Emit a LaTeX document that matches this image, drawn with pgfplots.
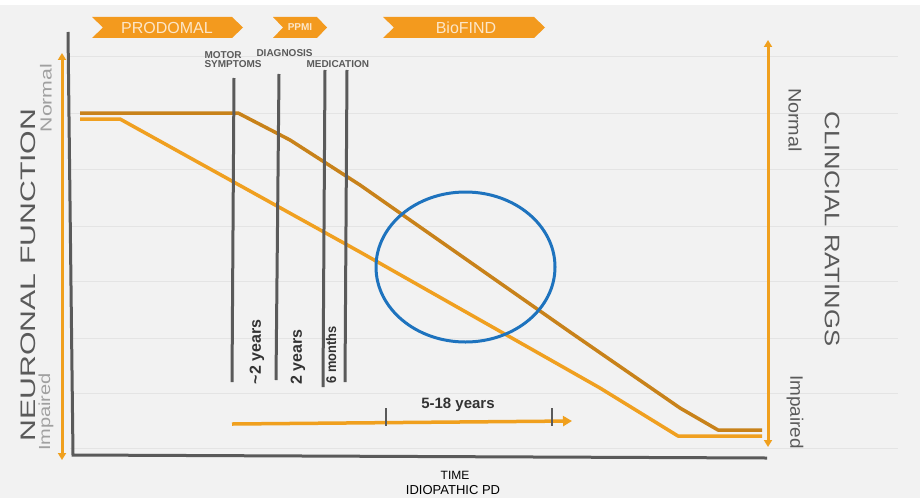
\documentclass[border=0pt]{standalone}
\usepackage{pgfplots}
\pgfplotsset{compat=1.18}
\usepackage{fontspec}
\setmainfont{Liberation Sans}
\usetikzlibrary{arrows.meta}
\definecolor{bg}{HTML}{F2F2F2}
\definecolor{gridc}{HTML}{E4E4E4}
\definecolor{darkor}{HTML}{C8821A}
\definecolor{lightor}{HTML}{F0A020}
\definecolor{arrowor}{HTML}{F0A01E}
\definecolor{chev}{HTML}{F39A1E}
\definecolor{chevtxt}{HTML}{FCE6C8}
\definecolor{axgray}{HTML}{5A5A5A}
\definecolor{bluec}{HTML}{1E73BE}
\definecolor{lbl}{HTML}{5A5A5A}
\definecolor{lgray}{HTML}{A0A0A0}
\definecolor{txtdark}{HTML}{333333}
\newcommand{\fs}[1]{\fontsize{#1bp}{#1bp}\selectfont}
\begin{document}
\begin{tikzpicture}
\begin{axis}[scale only axis, width=920bp, height=498bp,
  xmin=0, xmax=920, ymin=0, ymax=498, y dir=reverse,
  hide axis, clip=false]
% background
\fill[white] (axis cs:0,0) rectangle (axis cs:920,498);
\fill[bg] (axis cs:0,5) rectangle (axis cs:920,498);
% faint grid lines
\draw[gridc, line width=0.8bp] (axis cs:70,56) -- (axis cs:898,56);
\draw[gridc, line width=0.8bp] (axis cs:70,113) -- (axis cs:898,113);
\draw[gridc, line width=0.8bp] (axis cs:70,169) -- (axis cs:898,169);
\draw[gridc, line width=0.8bp] (axis cs:70,226) -- (axis cs:898,226);
\draw[gridc, line width=0.8bp] (axis cs:70,281) -- (axis cs:898,281);
\draw[gridc, line width=0.8bp] (axis cs:70,338) -- (axis cs:898,338);
\draw[gridc, line width=0.8bp] (axis cs:70,393) -- (axis cs:898,393);
\draw[gridc, line width=0.8bp] (axis cs:70,448) -- (axis cs:898,448);

% chevrons
\addplot[fill=chev, draw=none] coordinates {(92,17)(232,17)(243,27.5)(232,38)(92,38)(103,27.5)} -- cycle;
\addplot[fill=chev, draw=none] coordinates {(273,17)(317,17)(327,27.5)(317,38)(273,38)(283,27.5)} -- cycle;
\addplot[fill=chev, draw=none] coordinates {(383,17)(534,17)(545,27.5)(534,38)(383,38)(394,27.5)} -- cycle;
\node[chevtxt, font=\fs{16}] at (axis cs:167,27.5) {PRODOMAL};
\node[chevtxt, font=\fs{10}\bfseries] at (axis cs:300,27.5) {PPMI};
\node[chevtxt, font=\fs{16}] at (axis cs:466,27.5) {BioFIND};

% curves
\addplot[darkor, line width=3.5bp, line join=round] coordinates {(80,113)(238,113)(290,140)(360,185)(570,332)(680,408)(718,430)(762,430)};
\addplot[lightor, line width=3.5bp, line join=round] coordinates {(80,119)(120,119)(360,252)(533,350)(600,388)(678,436)(762,436)};

% axes (L shape)
\addplot[axgray, line width=3bp] coordinates {(68,32)(73,455)(767,458)};

% side arrows
\addplot[arrowor, line width=3bp, arrows={Triangle[length=7bp,width=8bp]-Triangle[length=7bp,width=8bp]}] coordinates {(62,53)(62,460)};
\addplot[arrowor, line width=3bp, arrows={Triangle[length=7bp,width=8bp]-Triangle[length=7bp,width=8bp]}] coordinates {(768,40)(768,447)};

% event lines
\addplot[axgray, line width=3bp] coordinates {(234,78)(232,382)};
\addplot[axgray, line width=3bp] coordinates {(279,74)(276,380)};
\addplot[axgray, line width=3bp] coordinates {(325,70)(323,387)};
\addplot[axgray, line width=3bp] coordinates {(347,70)(345,382)};

% horizontal time arrow
\addplot[arrowor, line width=3.5bp, arrows={-Triangle[length=9bp,width=10bp]}] coordinates {(232,424)(572,421)};
\addplot[axgray, line width=2.5bp] coordinates {(386,408)(386,426)};
\addplot[axgray, line width=2.5bp] coordinates {(552,408)(552,426)};

% highlight ellipse
\draw[bluec, line width=3bp] (axis cs:465.5,267) ellipse [x radius=89.5bp, y radius=75bp];

% event labels
\node[lbl, font=\fs{10}\bfseries, anchor=west, align=left] at (axis cs:201,60) {MOTOR\\[-1bp]SYMPTOMS};
\node[lbl, font=\fs{10}\bfseries, anchor=west] at (axis cs:253,53) {DIAGNOSIS};
\node[lbl, font=\fs{10}\bfseries, anchor=west] at (axis cs:303,64) {MEDICATION};

\node[txtdark, font=\fs{16}\bfseries, rotate=90] at (axis cs:257,352) {\char`\~2 years};
\node[txtdark, font=\fs{16}\bfseries, rotate=90] at (axis cs:298,357) {2 years};
\node[txtdark, font=\fs{14}\bfseries, rotate=90] at (axis cs:331,355) {\scalebox{0.92}[1]{6 months}};
\node[txtdark, font=\fs{15}\bfseries] at (axis cs:458,405) {5-18 years};

\node[black, font=\fs{12}] at (axis cs:455,475) {TIME};
\node[black, font=\fs{13}] at (axis cs:453,490) {IDIOPATHIC PD};

% side titles
\node[lbl, font=\fs{21}, rotate=90] at (axis cs:28,275) {\scalebox{1.44}[1]{NEURONAL FUNCTION}};
\node[lgray, font=\fs{16}, rotate=90] at (axis cs:46,98) {\scalebox{1.33}[1]{Normal}};
\node[lgray, font=\fs{16}, rotate=90] at (axis cs:46,412) {\scalebox{1.25}[1]{Impaired}};
\node[lbl, font=\fs{21}, rotate=-90] at (axis cs:832,229) {\scalebox{1.22}[1]{CLINCIAL RATINGS}};
\node[lbl, font=\fs{18}, rotate=-90] at (axis cs:795,120) {\scalebox{1.1}[1]{Normal}};
\node[lbl, font=\fs{18}, rotate=-90] at (axis cs:795,412) {\scalebox{1.05}[1]{Impaired}};
\end{axis}
\end{tikzpicture}
\end{document}
